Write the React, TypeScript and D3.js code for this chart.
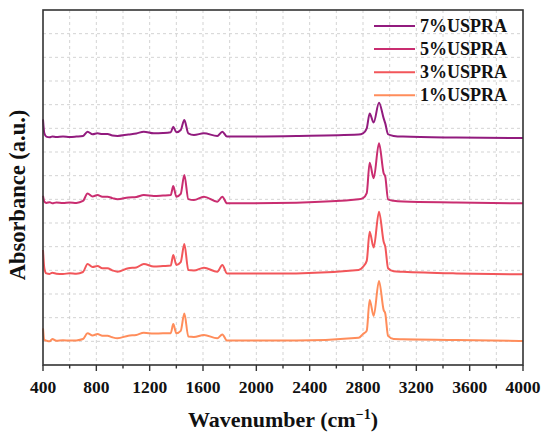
import React from "react";
import * as d3 from "d3";

const wavenumbers = [400, 410, 425, 450, 470, 500, 550, 600, 650, 700,
  734, 772, 809, 845, 884, 920, 959, 1040, 1100, 1156,
  1231, 1300, 1358, 1377, 1400, 1433, 1460, 1490, 1532, 1607,
  1707, 1745, 1780, 2300, 2767, 2800, 2828, 2850, 2880, 2920,
  2955, 2967, 2988, 3030, 3100, 3500, 4000];

const uspra7 = [10.38, 9.79, 9.65, 9.62, 9.66, 9.63, 9.66, 9.63, 9.65, 9.68,
  9.86, 9.75, 9.79, 9.76, 9.76, 9.70, 9.68, 9.74, 9.78, 9.86,
  9.79, 9.80, 9.83, 10.07, 9.83, 9.93, 10.35, 9.79, 9.72, 9.79,
  9.68, 9.86, 9.65, 9.68, 9.74, 9.79, 10.00, 10.63, 10.25, 11.08,
  10.42, 10.21, 9.75, 9.68, 9.65, 9.61, 9.59];

const uspra5 = [7.15, 6.90, 6.85, 6.88, 6.83, 6.87, 6.84, 6.87, 6.85, 6.93,
  7.25, 7.12, 7.18, 7.11, 7.11, 7.05, 7.00, 7.08, 7.10, 7.18,
  7.14, 7.16, 7.18, 7.56, 7.11, 7.23, 8.03, 7.01, 6.97, 7.11,
  6.90, 7.11, 6.83, 6.86, 7.00, 7.05, 7.26, 8.55, 7.89, 9.37,
  8.10, 7.96, 7.00, 6.94, 6.91, 6.87, 6.83];

const uspra3 = [4.86, 4.09, 3.87, 3.85, 3.90, 3.86, 3.84, 3.88, 3.86, 3.93,
  4.27, 4.14, 4.18, 4.09, 4.09, 4.00, 3.94, 4.09, 4.12, 4.27,
  4.16, 4.18, 4.20, 4.65, 4.23, 4.35, 5.11, 4.01, 3.99, 4.11,
  3.94, 4.23, 3.87, 3.87, 4.01, 4.15, 4.40, 5.63, 4.96, 6.48,
  5.21, 5.00, 4.09, 3.96, 3.94, 3.87, 3.83];

const uspra1 = [1.55, 1.06, 1.03, 1.00, 1.10, 1.02, 1.05, 1.03, 1.04, 1.10,
  1.34, 1.25, 1.31, 1.24, 1.24, 1.17, 1.13, 1.24, 1.27, 1.36,
  1.33, 1.34, 1.34, 1.73, 1.34, 1.44, 2.18, 1.20, 1.18, 1.27,
  1.13, 1.29, 1.03, 1.03, 1.15, 1.31, 1.45, 2.75, 2.07, 3.55,
  2.32, 2.18, 1.23, 1.10, 1.09, 1.06, 1.01];

const seriesLabels = ["7%USPRA", "5%USPRA", "3%USPRA", "1%USPRA"];
const seriesValues = [uspra7, uspra5, uspra3, uspra1];
const seriesColors = ["#921B7E", "#C92D70", "#F2565A", "#FF8D5B"];

const xMajorTicks = [400, 800, 1200, 1600, 2000, 2400, 2800, 3200, 3600, 4000];
const xMinorTicks = [600, 1000, 1400, 1800, 2200, 2600, 3000, 3400, 3800];
const yGridValues = [1, 2, 3, 4, 5, 6, 7, 8, 9, 10, 11, 12, 13, 14];

const W = 550;
const H = 439;
const left = 43;
const right = 523;
const top = 10;
const bottom = 365;
const font = "'Liberation Serif', 'Times New Roman', Times, serif";

export default function App() {
  const x = d3.scaleLinear().domain([400, 4000]).range([left, right]);
  const y = d3.scaleLinear().domain([0, 15]).range([bottom, top]);
  const line = d3
    .line<number>()
    .x((_, i) => x(wavenumbers[i]))
    .y((d) => y(d))
    .curve(d3.curveMonotoneX);

  const gridX = [...xMajorTicks, ...xMinorTicks].filter((v) => v > 400 && v < 4000);

  return (
    <svg
      width={W}
      height={H}
      style={{ position: "absolute", left: 0, top: 0, display: "block", background: "#fff", fontFamily: font }}
    >
      <rect x={0} y={0} width={W} height={H} fill="#fff" />
      <g stroke="#c8c8c8" strokeWidth={0.8} strokeDasharray="3,3">
        {gridX.map((v) => (
          <line key={"gx" + v} x1={x(v)} x2={x(v)} y1={top} y2={bottom} />
        ))}
        {yGridValues.map((v) => (
          <line key={"gy" + v} x1={left} x2={right} y1={y(v)} y2={y(v)} />
        ))}
      </g>
      <g fill="none" strokeWidth={2} strokeLinejoin="round">
        {seriesValues.map((vals, i) => (
          <path key={seriesLabels[i]} d={line(vals) || ""} stroke={seriesColors[i]} />
        ))}
      </g>
      <rect x={left} y={top} width={right - left} height={bottom - top} fill="none" stroke="#333" strokeWidth={1.6} />
      <g stroke="#333" strokeWidth={1.4}>
        {xMajorTicks.map((v) => (
          <line key={"t" + v} x1={x(v)} x2={x(v)} y1={bottom} y2={bottom + 6} />
        ))}
        {xMinorTicks.map((v) => (
          <line key={"m" + v} x1={x(v)} x2={x(v)} y1={bottom} y2={bottom + 3.5} />
        ))}
      </g>
      <g fontSize={17.5} fontWeight="bold" textAnchor="middle" fill="#111">
        {xMajorTicks.map((v) => (
          <text key={"l" + v} x={x(v)} y={393}>
            {v}
          </text>
        ))}
      </g>
      <text x={(left + right) / 2} y={427} fontSize={22} fontWeight="bold" textAnchor="middle" fill="#111">
        Wavenumber (cm
        <tspan dy={-8} fontSize={14}>−1</tspan>
        <tspan dy={8}>)</tspan>
      </text>
      <text
        transform={`translate(25, 195) rotate(-90)`}
        fontSize={22.5}
        fontWeight="bold"
        textAnchor="middle"
        fill="#111"
      >
        Absorbance (a.u.)
      </text>
      <g>
        {seriesLabels.map((label, i) => (
          <g key={"leg" + label} transform={`translate(0, ${26 + i * 23.1})`}>
            <line x1={374} x2={415} y1={0} y2={0} stroke={seriesColors[i]} strokeWidth={2} />
            <text x={420} y={6} fontSize={18} fontWeight="bold" fill="#111">
              {label}
            </text>
          </g>
        ))}
      </g>
    </svg>
  );
}
